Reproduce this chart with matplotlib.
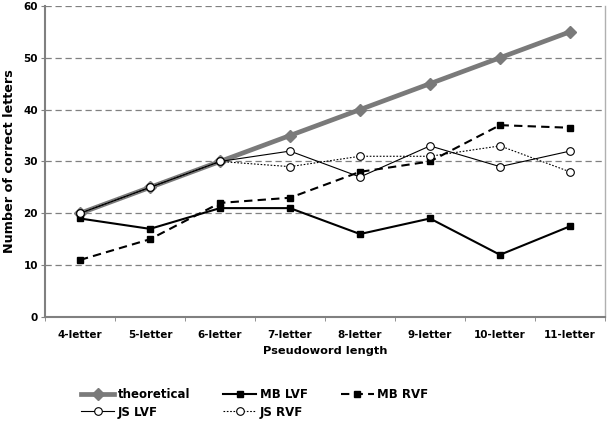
import matplotlib.pyplot as plt
import numpy as np

# Data
x_labels = ['4-letter', '5-letter', '6-letter', '7-letter', '8-letter', '9-letter', '10-letter', '11-letter']
theoretical = [20, 25, 30, 35, 40, 45, 50, 55]
mb_lvf = [19, 17, 21, 21, 16, 19, 12, 17.5]
mb_rvf = [11, 15, 22, 23, 28, 30, 37, 36.5]
js_lvf = [20, 25, 30, 32, 27, 33, 29, 32]
js_rvf = [20, 25, 30, 29, 31, 31, 33, 28]

x = np.arange(len(x_labels))

plt.rcParams.update({'font.family': 'DejaVu Sans', 'font.weight': 'bold'})

fig = plt.figure(figsize=(6.07, 4.21), dpi=100)
ax = fig.add_axes([0.0741, 0.247, 0.9226, 0.739])

# Draw lines
l_th, = ax.plot(x, theoretical, color='#7a7a7a', lw=3.4, marker='D', ms=6,
                mfc='#7a7a7a', mec='#7a7a7a', label='theoretical', zorder=3)
l_mbl, = ax.plot(x, mb_lvf, color='black', lw=1.5, marker='s', ms=4.5,
                 label='MB LVF', zorder=4)
l_mbr, = ax.plot(x, mb_rvf, color='black', lw=1.5, ls=(0, (4, 2.5)), marker='s', ms=4.5,
                 label='MB RVF', zorder=4)
l_jsl, = ax.plot(x, js_lvf, color='black', lw=0.8, marker='o', ms=5.5,
                 mfc='white', mec='black', mew=0.8, label='JS LVF', zorder=5)
l_jsr, = ax.plot(x, js_rvf, color='black', lw=0.8, ls=(0, (1.5, 1.5)), marker='o', ms=5.5,
                 mfc='white', mec='black', mew=0.8, label='JS RVF', zorder=5)

# Axes
ax.set_xlim(-0.5, len(x_labels) - 0.5)
ax.set_ylim(0, 60)
ax.set_yticks(np.arange(0, 61, 10))
ax.set_xticks(x)
ax.set_xticklabels(x_labels)
ax.set_xticks(np.arange(-0.5, len(x_labels)), minor=True)
ax.tick_params(axis='x', which='major', length=0, labelsize=7.5, pad=9)
ax.tick_params(axis='x', which='minor', length=3, color='#808080')
ax.tick_params(axis='y', length=3, color='#808080', labelsize=7.5, pad=2)

ax.grid(axis='y', color='#808080', linestyle=(0, (5, 3)), lw=0.9)
ax.set_axisbelow(True)

for side in ['left', 'bottom']:
    ax.spines[side].set_color('#808080')
    ax.spines[side].set_linewidth(1.5)
ax.spines['right'].set_color('#b0b0b0')
ax.spines['right'].set_linewidth(1.0)
ax.spines['top'].set_visible(False)

ax.set_xlabel('Pseudoword length', fontsize=8.2, fontweight='bold', labelpad=5)
ax.set_ylabel('Number of correct letters', fontsize=9.2, fontweight='bold', labelpad=5)

# Legend (row order: theoretical, MB LVF, MB RVF / JS LVF, JS RVF)
handles = [l_th, l_jsl, l_mbl, l_jsr, l_mbr]
fig.legend(handles=handles, labels=[h.get_label() for h in handles], ncol=3,
           loc='lower left', bbox_to_anchor=(0.12, -0.014), frameon=False,
           fontsize=8.5, handlelength=2.8, handletextpad=0.3, columnspacing=2.8,
           labelspacing=0.4, borderaxespad=0.3)

fig.savefig('out.png', dpi=100)
